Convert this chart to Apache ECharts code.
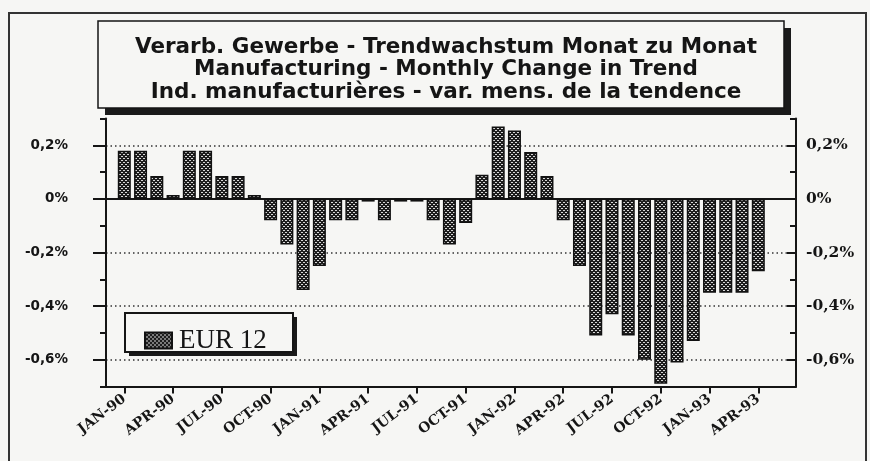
<!DOCTYPE html>
<html><head><meta charset="utf-8">
<script src="https://cdn.jsdelivr.net/npm/echarts@6/dist/echarts.min.js"></script>
<style>html,body{margin:0;padding:0;background:#f6f6f4}#c{width:870px;height:461px}</style>
</head><body><div id="c"></div>
<script>
const titleLines = [
  'Verarb. Gewerbe - Trendwachstum Monat zu Monat',
  'Manufacturing - Monthly Change in Trend',
  'Ind. manufacturières - var. mens. de la tendence'
];
const seriesName = 'EUR 12';
const months = [
  'JAN-90','FEB-90','MAR-90','APR-90','MAY-90','JUN-90','JUL-90','AUG-90','SEP-90','OCT-90','NOV-90','DEC-90',
  'JAN-91','FEB-91','MAR-91','APR-91','MAY-91','JUN-91','JUL-91','AUG-91','SEP-91','OCT-91','NOV-91','DEC-91',
  'JAN-92','FEB-92','MAR-92','APR-92','MAY-92','JUN-92','JUL-92','AUG-92','SEP-92','OCT-92','NOV-92','DEC-92',
  'JAN-93','FEB-93','MAR-93','APR-93'
];
const values = [
  0.18, 0.18, 0.085, 0.015, 0.18, 0.18, 0.085, 0.085, 0.015, -0.08, -0.17, -0.34,
  -0.25, -0.08, -0.08, -0.01, -0.08, -0.01, -0.01, -0.08, -0.17, -0.09, 0.09, 0.27,
  0.255, 0.175, 0.085, -0.08, -0.25, -0.51, -0.43, -0.51, -0.60, -0.69, -0.61, -0.53,
  -0.35, -0.35, -0.35, -0.27
];
// y scale: full frame range and labelled range
const yFrame = { min: -0.7, max: 0.3, step: 0.1 };
const yLabelled = { min: -0.6, max: 0.2, step: 0.2 };

function fmt(v) {
  const r = Math.round(v * 10) / 10;
  if (r === 0) return '0%';
  return r.toFixed(1).replace('.', ',') + '%';
}
function makePattern() {
  const c = document.createElement('canvas');
  c.width = 4; c.height = 4;
  const g = c.getContext('2d');
  g.fillStyle = '#1d1d1d'; g.fillRect(0, 0, 4, 4);
  g.fillStyle = '#d8d8d8';
  g.fillRect(1, 0, 2, 1);
  g.fillRect(0, 2, 1, 1); g.fillRect(3, 2, 1, 1);
  return c;
}
const pattern = { image: makePattern(), repeat: 'repeat' };
const BG = '#f6f6f4';
const INK = '#151515';

// geometry
const plotLeft = 106, plotRight = 796, plotTop = 118.5, plotBottom = 386.5;
const H = 461, W = 870;
const pxPerUnit = (plotBottom - plotTop) / (yFrame.max - yFrame.min);
const yOf = v => plotTop + (yFrame.max - v) * pxPerUnit;
const firstCenter = 124.3, lastCenter = 758.3;
const catW = (lastCenter - firstCenter) / (months.length - 1);

const chart = echarts.init(document.getElementById('c'), null, { renderer: 'canvas' });
chart.setOption({
  animation: false,
  backgroundColor: BG,
  title: {
    text: titleLines.join('\n'),
    left: 441, top: 31, textAlign: 'center',
    textStyle: { fontFamily: 'DejaVu Sans', fontWeight: 'bold', fontSize: 21.5, lineHeight: 22.5, color: INK },
    z: 10
  },
  legend: {
    data: [seriesName],
    left: 139, top: 322,
    itemWidth: 27, itemHeight: 16, itemGap: 10,
    icon: 'rect',
    textStyle: { fontFamily: 'Liberation Serif', fontSize: 27, color: INK, padding: [3, 0, 0, 2] },
    z: 10
  },
  graphic: [
    { type: 'polyline', shape: { points: [[9, H], [9, 13], [866, 13], [866, H]] },
      style: { stroke: '#333', lineWidth: 2, fill: null }, z: 0 },
    { type: 'rect', shape: { x: 105, y: 28, width: 686, height: 87 }, style: { fill: '#1a1a1a' }, z: 1 },
    { type: 'rect', shape: { x: 98, y: 21, width: 686, height: 87 }, style: { fill: BG, stroke: INK, lineWidth: 1.5 }, z: 2 },
    { type: 'rect', shape: { x: 129, y: 317, width: 168, height: 39 }, style: { fill: '#1a1a1a' }, z: 3 },
    { type: 'rect', shape: { x: 125, y: 313, width: 168, height: 39 }, style: { fill: BG, stroke: INK, lineWidth: 2 }, z: 4 }
  ],
  grid: [
    { left: plotLeft, top: plotTop, width: plotRight - plotLeft, height: plotBottom - plotTop, outerBoundsMode: 'none' },
    { left: firstCenter - catW / 2, top: plotTop, width: catW * months.length, height: plotBottom - plotTop, outerBoundsMode: 'none' },
    { left: plotLeft, top: yOf(yLabelled.max), width: plotRight - plotLeft, height: yOf(yLabelled.min) - yOf(yLabelled.max), outerBoundsMode: 'none' }
  ],
  xAxis: [
    { gridIndex: 0, type: 'value', min: 0, max: 1, position: 'bottom',
      axisLine: { show: true, onZero: false, lineStyle: { color: INK, width: 2 } },
      axisTick: { show: false }, axisLabel: { show: false }, splitLine: { show: false } },
    { gridIndex: 1, type: 'category', data: months, position: 'bottom',
      axisLine: { show: false, onZero: false },
      axisTick: { show: true, interval: 2, alignWithLabel: true, length: 7, lineStyle: { color: INK, width: 2 } },
      axisLabel: { interval: 2, rotate: 37, margin: 11, fontFamily: 'DejaVu Serif', fontSize: 14, fontWeight: 'bold', color: INK },
      splitLine: { show: false } },
    { gridIndex: 2, type: 'value', min: 0, max: 1,
      axisLine: { show: true, onZero: true, lineStyle: { color: INK, width: 2 } },
      axisTick: { show: false }, axisLabel: { show: false }, splitLine: { show: false } }
  ],
  yAxis: [
    { gridIndex: 0, type: 'value', min: yFrame.min, max: yFrame.max, interval: yFrame.step, position: 'left',
      axisLine: { show: true, lineStyle: { color: INK, width: 2 } },
      axisTick: { show: true, length: 6, lineStyle: { color: INK, width: 2 } },
      axisLabel: { show: false }, splitLine: { show: false } },
    { gridIndex: 0, type: 'value', min: yFrame.min, max: yFrame.max, interval: yFrame.step, position: 'right',
      axisLine: { show: true, lineStyle: { color: INK, width: 2 } },
      axisTick: { show: true, inside: true, length: 6, lineStyle: { color: INK, width: 2 } },
      axisLabel: { show: false }, splitLine: { show: false } },
    { gridIndex: 1, type: 'value', min: yFrame.min, max: yFrame.max, show: false },
    { gridIndex: 2, type: 'value', min: yLabelled.min, max: yLabelled.max, interval: yLabelled.step, position: 'left',
      axisLine: { show: false },
      axisTick: { show: true, length: 13, lineStyle: { color: INK, width: 2 } },
      axisLabel: { margin: 38, formatter: fmt, fontFamily: 'DejaVu Sans', fontWeight: 'bold', fontSize: 13.5, color: INK },
      splitLine: { show: true, lineStyle: { color: '#333', width: 1.5, type: [1.5, 3] } } },
    { gridIndex: 2, type: 'value', min: yLabelled.min, max: yLabelled.max, interval: yLabelled.step, position: 'right',
      axisLine: { show: false },
      axisTick: { show: true, inside: true, length: 9, lineStyle: { color: INK, width: 2 } },
      axisLabel: { margin: 10, formatter: fmt, fontFamily: 'DejaVu Serif', fontWeight: 'bold', fontSize: 15.5, color: INK },
      splitLine: { show: false } }
  ],
  series: [{
    name: seriesName, type: 'bar', xAxisIndex: 1, yAxisIndex: 2,
    data: values, barWidth: 13,
    itemStyle: { color: pattern, borderColor: '#111', borderWidth: 1.5 },
    z: 5
  }]
});
</script></body></html>
